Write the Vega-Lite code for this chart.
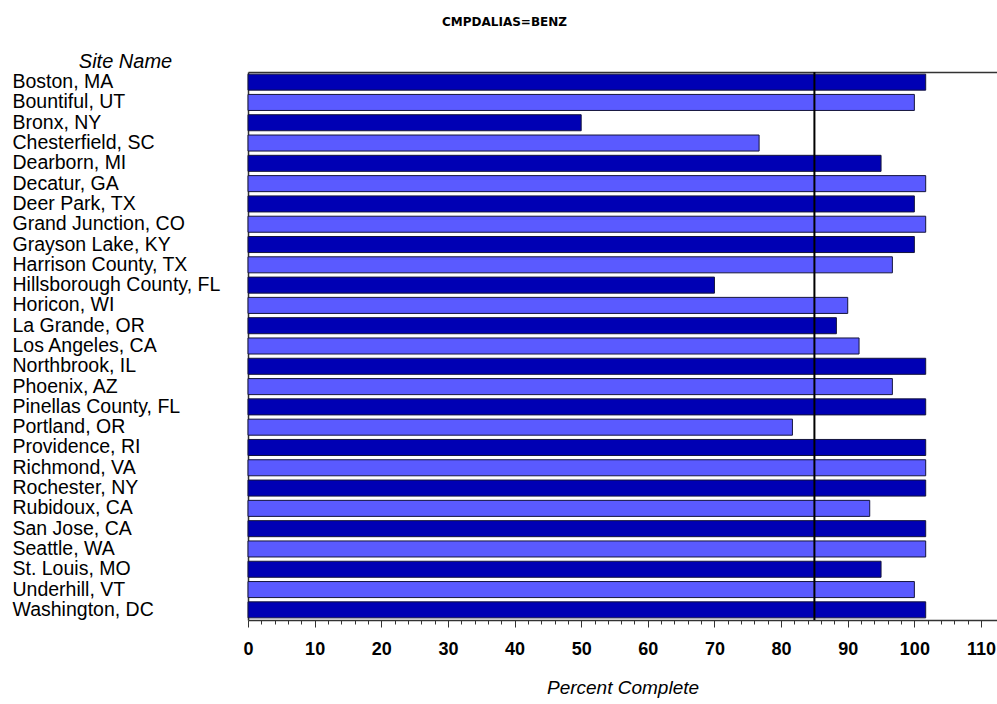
{
  "$schema": "https://vega.github.io/schema/vega-lite/v6.json",
  "autosize": "none",
  "width": 749,
  "height": 548,
  "padding": {"left": 248, "top": 72, "right": 0, "bottom": 84},
  "background": "white",
  "title": {"text": "CMPDALIAS=BENZ", "font": "DejaVu Sans", "fontSize": 12, "fontWeight": "bold", "color": "black", "anchor": "middle", "frame": "bounds", "offset": 22},
  "config": {"view": {"stroke": null}, "font": "Liberation Sans"},
  "resolve": {"axis": {"x": "independent"}},
  "data": {"values": [
    {"site": "Boston, MA", "pct": 101.7},
    {"site": "Bountiful, UT", "pct": 100},
    {"site": "Bronx, NY", "pct": 50},
    {"site": "Chesterfield, SC", "pct": 76.7},
    {"site": "Dearborn, MI", "pct": 95},
    {"site": "Decatur, GA", "pct": 101.7},
    {"site": "Deer Park, TX", "pct": 100},
    {"site": "Grand Junction, CO", "pct": 101.7},
    {"site": "Grayson Lake, KY", "pct": 100},
    {"site": "Harrison County, TX", "pct": 96.7},
    {"site": "Hillsborough County, FL", "pct": 70},
    {"site": "Horicon, WI", "pct": 90},
    {"site": "La Grande, OR", "pct": 88.3},
    {"site": "Los Angeles, CA", "pct": 91.7},
    {"site": "Northbrook, IL", "pct": 101.7},
    {"site": "Phoenix, AZ", "pct": 96.7},
    {"site": "Pinellas County, FL", "pct": 101.7},
    {"site": "Portland, OR", "pct": 81.7},
    {"site": "Providence, RI", "pct": 101.7},
    {"site": "Richmond, VA", "pct": 101.7},
    {"site": "Rochester, NY", "pct": 101.7},
    {"site": "Rubidoux, CA", "pct": 93.3},
    {"site": "San Jose, CA", "pct": 101.7},
    {"site": "Seattle, WA", "pct": 101.7},
    {"site": "St. Louis, MO", "pct": 95},
    {"site": "Underhill, VT", "pct": 100},
    {"site": "Washington, DC", "pct": 101.7}
  ]},
  "layer": [
    {
      "transform": [{"window": [{"op": "row_number", "as": "idx"}]}],
      "mark": {"type": "bar", "stroke": "#14143c", "strokeWidth": 1},
      "encoding": {
        "y": {
          "field": "site", "type": "nominal", "sort": null,
          "scale": {"paddingInner": 0.21, "paddingOuter": 0.105},
          "axis": {
            "title": "Site Name", "titleAngle": 0, "titleX": -123, "titleY": -5,
            "titleAlign": "center", "titleBaseline": "alphabetic",
            "titleFontStyle": "italic", "titleFontWeight": "normal", "titleFontSize": 20, "titleColor": "black",
            "labelAlign": "left", "labelPadding": 236, "ticks": false, "tickSize": 0,
            "labelFontSize": 19.5, "labelColor": "black", "labelLimit": 300, "labelBaseline": "middle",
            "domainColor": "#333", "domainWidth": 1.5
          }
        },
        "x": {
          "field": "pct", "type": "quantitative",
          "scale": {"domain": [0, 112.4], "nice": false},
          "axis": {
            "orient": "bottom",
            "values": [0,2,4,6,8,10,12,14,16,18,20,22,24,26,28,30,32,34,36,38,40,42,44,46,48,50,52,54,56,58,60,62,64,66,68,70,72,74,76,78,80,82,84,86,88,90,92,94,96,98,100,102,104,106,108,110],
            "labelExpr": "datum.value % 10 === 0 ? datum.label : ''",
            "tickSize": {"condition": {"test": "datum.value % 10 === 0", "value": 7}, "value": 4},
            "tickColor": "#333", "domainColor": "#333", "domainWidth": 1.5,
            "labelFontSize": 18, "labelFontWeight": "bold", "labelColor": "black", "labelPadding": 13,
            "labelFlush": false, "labelOverlap": false, "grid": false,
            "title": "Percent Complete", "titleFontStyle": "italic", "titleFontWeight": "normal",
            "titleFontSize": 19, "titleColor": "black", "titleY": 73, "titleBaseline": "alphabetic"
          }
        },
        "color": {"condition": {"test": "datum.idx % 2 === 1", "value": "#0000B4"}, "value": "#5A5AFF"}
      }
    },
    {
      "data": {"values": [{"ref": 85}]},
      "mark": {"type": "rule", "color": "black", "strokeWidth": 2},
      "encoding": {
        "x": {"field": "ref", "type": "quantitative",
          "axis": {"orient": "top", "labels": false, "ticks": false, "title": null, "domain": true, "domainColor": "#333", "domainWidth": 1.5, "grid": false}}
      }
    }
  ]
}
